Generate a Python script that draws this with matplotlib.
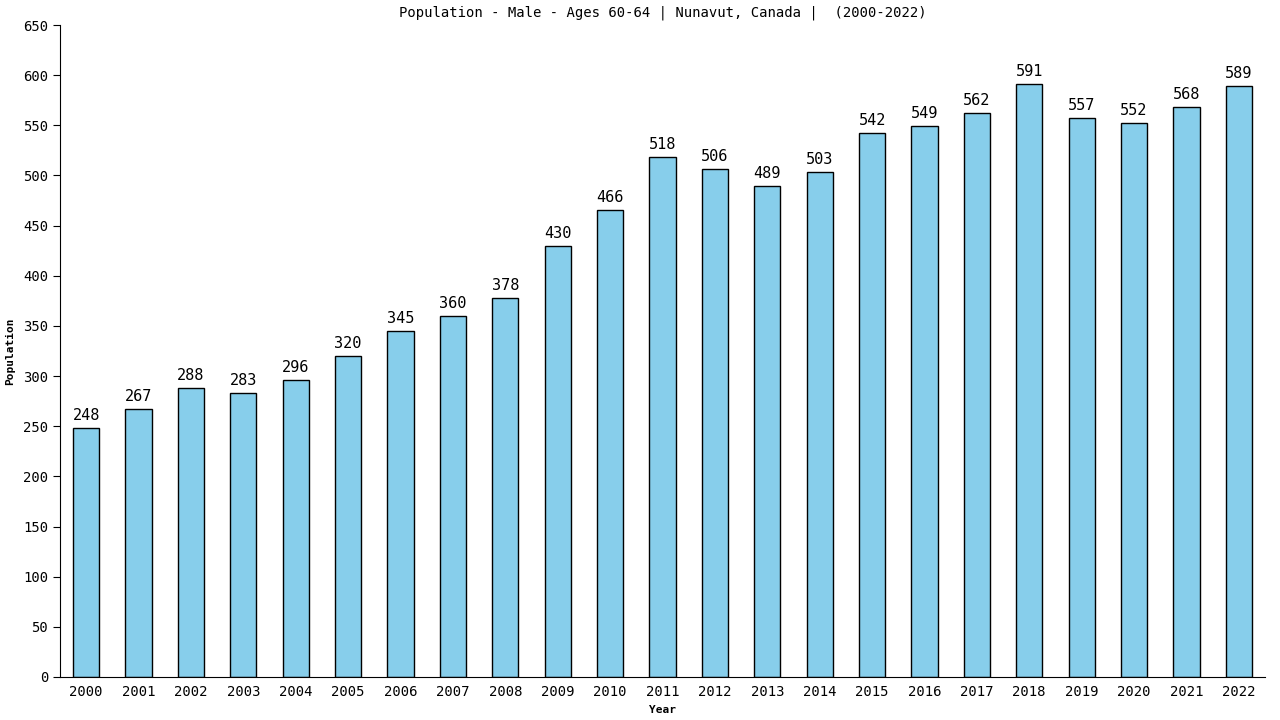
import matplotlib
matplotlib.use('Agg')
import matplotlib.pyplot as plt

years = [str(y) for y in range(2000, 2023)]
population = [248, 267, 288, 283, 296, 320, 345, 360, 378, 430, 466, 518, 506,
              489, 503, 542, 549, 562, 591, 557, 552, 568, 589]

plt.rcParams['font.family'] = ['DejaVu Sans Mono']

fig = plt.figure(figsize=(12.8, 7.2), dpi=100)
ax = fig.add_axes([60 / 1280, 43 / 720, 1205 / 1280, 652 / 720])

x = list(range(len(years)))
bars = ax.bar(x, population, width=0.5, color='#87ceeb', edgecolor='black', linewidth=1)

for xi, v in zip(x, population):
    ax.text(xi, v + 5, str(v), ha='center', va='bottom', fontsize=11)

ax.set_xlim(-0.5, len(years) - 0.5)
ax.set_ylim(0, 650)
ax.set_yticks(range(0, 651, 50))
ax.set_xticks(x)
ax.set_xticklabels(years)
ax.tick_params(axis='x', length=0, labelsize=10, pad=6)
ax.tick_params(axis='y', length=5, labelsize=10)

ax.spines['top'].set_visible(False)
ax.spines['right'].set_visible(False)

ax.set_title('Population - Male - Ages 60-64 | Nunavut, Canada |  (2000-2022)', fontsize=10, pad=6)
ax.set_xlabel('Year', fontsize=8, fontweight='bold', labelpad=4)
ax.set_ylabel('Population', fontsize=8, fontweight='bold', labelpad=6)

fig.savefig('out.png', dpi=100)
